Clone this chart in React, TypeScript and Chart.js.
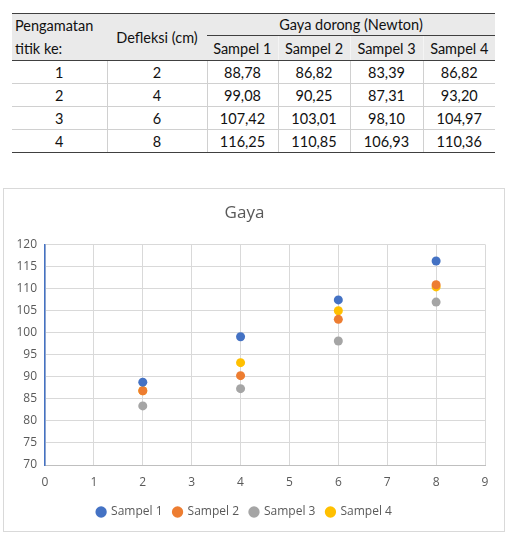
import React, { useEffect, useRef } from "react";
import { Chart, registerables } from "chart.js";

Chart.register(...registerables);

const seriesNames = ["Sampel 1", "Sampel 2", "Sampel 3", "Sampel 4"];
const deflections = [2, 4, 6, 8];
const points = ["1", "2", "3", "4"];
const sampel1 = [88.78, 99.08, 107.42, 116.25];
const sampel2 = [86.82, 90.25, 103.01, 110.85];
const sampel3 = [83.39, 87.31, 98.1, 106.93];
const sampel4 = [86.82, 93.2, 104.97, 110.36];
const seriesColors = ["#4472C4", "#ED7D31", "#A5A5A5", "#FFC000"];

const fmt = (v: number) => v.toFixed(2).replace(".", ",");

export default function App() {
  const canvasRef = useRef<HTMLCanvasElement | null>(null);

  useEffect(() => {
    document.body.style.margin = "0";
    const all = [sampel1, sampel2, sampel3, sampel4];
    const chart = new Chart(canvasRef.current!, {
      type: "scatter",
      data: {
        datasets: all.map((s, i) => ({
          label: seriesNames[i],
          data: s.map((y, j) => ({ x: deflections[j], y })),
          backgroundColor: seriesColors[i],
          borderColor: seriesColors[i],
          pointRadius: 4.5,
          pointHoverRadius: 4.5,
          borderWidth: 0,
        })),
      },
      options: {
        animation: false,
        responsive: false,
        layout: { padding: { left: 0, right: 19, top: 0, bottom: 3 } },
        plugins: {
          title: {
            display: true,
            text: "Gaya",
            color: "#595959",
            font: { family: "Open Sans", size: 17, weight: "normal" },
            padding: { top: 14, bottom: 21 },
          },
          legend: {
            position: "bottom",
            labels: {
              usePointStyle: true,
              pointStyle: "circle",
              boxWidth: 8,
              boxHeight: 8,
              color: "#595959",
              font: { family: "Open Sans", size: 12 },
              padding: 11,
            },
          },
          tooltip: { enabled: false },
        },
        scales: {
          x: {
            type: "linear",
            min: 0,
            max: 9,
            ticks: {
              stepSize: 1,
              color: "#595959",
              font: { family: "Open Sans", size: 12 },
              padding: 10,
            },
            grid: { color: "#d9d9d9", drawTicks: false },
            border: { color: "#bfbfbf", width: 1 },
            afterFit: (s: any) => {
              s.height = 30;
            },
          },
          y: {
            min: 70,
            max: 120,
            ticks: {
              stepSize: 5,
              color: "#595959",
              font: { family: "Open Sans", size: 12 },
              padding: 8,
            },
            grid: { color: "#d9d9d9", drawTicks: false },
            border: { color: "#4472C4", width: 1.5 },
            afterFit: (s: any) => {
              s.width = 41;
            },
          },
        },
      },
    } as any);
    return () => chart.destroy();
  }, []);

  const thBase: React.CSSProperties = {
    fontWeight: "normal",
    padding: 0,
  };
  const dark = "1.5px solid #404040";
  const light = "1px solid #d0d0d0";

  return (
    <div style={{ position: "relative", width: 509, height: 533, background: "#fff", fontFamily: "Lato, sans-serif" }}>
      <table
        style={{
          position: "absolute",
          left: 12,
          top: 13,
          width: 483,
          borderCollapse: "collapse",
          fontSize: 14.5,
          color: "#111",
          tableLayout: "fixed",
        }}
      >
        <colgroup>
          <col style={{ width: 95 }} />
          <col style={{ width: 100 }} />
          <col style={{ width: 71 }} />
          <col style={{ width: 72 }} />
          <col style={{ width: 73 }} />
          <col style={{ width: 72 }} />
        </colgroup>
        <thead>
          <tr style={{ height: 22, background: "#eaeaea" }}>
            <th
              rowSpan={2}
              style={{ ...thBase, textAlign: "left", paddingLeft: 3, lineHeight: "23px", borderTop: dark, borderBottom: dark }}
            >
              Pengamatan
              <br />
              titik ke:
            </th>
            <th rowSpan={2} style={{ ...thBase, textAlign: "center", borderTop: dark, borderBottom: dark }}>
              Defleksi (cm)
            </th>
            <th colSpan={4} style={{ ...thBase, textAlign: "center", borderTop: dark, borderBottom: "1.5px solid #404040" }}>
              Gaya dorong (Newton)
            </th>
          </tr>
          <tr style={{ height: 24, background: "#eaeaea" }}>
            {seriesNames.map((n, i) => (
              <th
                key={n}
                style={{
                  ...thBase,
                  textAlign: "center",
                  borderBottom: dark,
                  borderLeft: i > 0 ? "1px solid #f4f4f4" : undefined,
                }}
              >
                {n}
              </th>
            ))}
          </tr>
        </thead>
        <tbody>
          {points.map((p, r) => (
            <tr key={p} style={{ height: 23 }}>
              <td style={{ textAlign: "center", padding: 0, borderBottom: r === 3 ? dark : light }}>{p}</td>
              <td style={{ textAlign: "center", padding: 0, borderLeft: light, borderBottom: r === 3 ? dark : light }}>
                {deflections[r]}
              </td>
              {[sampel1, sampel2, sampel3, sampel4].map((s, i) => (
                <td
                  key={i}
                  style={{ textAlign: "center", padding: 0, borderLeft: light, borderBottom: r === 3 ? dark : light }}
                >
                  {fmt(s[r])}
                </td>
              ))}
            </tr>
          ))}
        </tbody>
      </table>
      <div
        style={{
          position: "absolute",
          left: 3,
          top: 188,
          width: 500,
          height: 342,
          border: "1px solid #d9d9d9",
        }}
      >
        <canvas ref={canvasRef} width={500} height={342} style={{ display: "block" }} />
      </div>
    </div>
  );
}
